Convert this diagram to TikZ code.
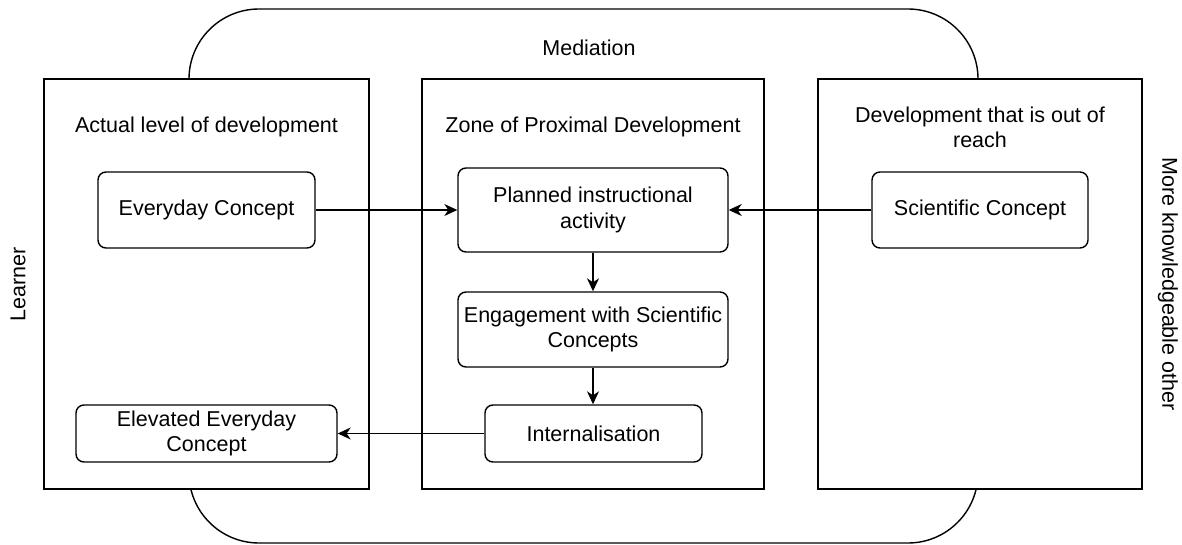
\documentclass[tikz,border=0pt]{standalone}
\usepackage{fontspec}
\setmainfont{Liberation Sans}
\usetikzlibrary{arrows.meta}
\begin{document}
\begin{tikzpicture}[x=0.5pt,y=-0.5pt,
  every node/.style={font=\fontsize{10.75}{12.75}\selectfont, align=center, inner sep=0pt},
  container/.style={draw, line width=0.7pt, fill=white},
  conceptbox/.style={draw, line width=0.7pt, fill=white, rounded corners=4pt},
  label/.style={},
  arr/.style={line width=0.7pt, -{Stealth[length=6.5pt,width=6pt,inset=2pt]}}]
\useasboundingbox (0,0) rectangle (1182,545);
% mediation rounded frame
\node[draw, line width=0.7pt, rounded corners=35pt, minimum width=394.5pt, minimum height=267pt] (frame) at (583.5,276) {};
\node[label] (medlabel) at (589,48) {Mediation};
% containers
\node[container, minimum width=162.5pt, minimum height=205pt] (left) at (206.5,284) {};
\node[container, minimum width=171pt, minimum height=205pt] (mid) at (593,284) {};
\node[container, minimum width=162pt, minimum height=205pt] (right) at (980,284) {};
\node[label] (lefttitle) at (206.5,127) {Actual level of development};
\node[label] (midtitle) at (593,127) {Zone of Proximal Development};
\node[label] (righttitle) at (980,127.5) {Development that is out of\\reach};
% side labels
\node[label, rotate=90] (learner) at (18,284) {Learner};
\node[label, rotate=-90] (mko) at (1168,284) {More knowledgeable other};
% concept boxes
\node[conceptbox, minimum width=108.5pt, minimum height=38pt] (everyday) at (206.5,210) {Everyday Concept};
\node[conceptbox, minimum width=135pt, minimum height=42pt] (planned) at (593,210) {Planned instructional\\activity};
\node[conceptbox, minimum width=108pt, minimum height=38pt] (scientific) at (980,210) {Scientific Concept};
\node[conceptbox, minimum width=135pt, minimum height=37.5pt] (engage) at (593,329.5) {Engagement with Scientific\\Concepts};
\node[conceptbox, minimum width=108.5pt, minimum height=28.5pt] (intern) at (593.5,433.5) {Internalisation};
\node[conceptbox, minimum width=130.5pt, minimum height=28.5pt] (elevated) at (206.5,433.5) {Elevated Everyday\\Concept};
% connectors
\draw[arr] (everyday.east) -- (planned.west);
\draw[arr] (scientific.west) -- (planned.east);
\draw[arr] (planned.south) -- (engage.north);
\draw[arr] (engage.south) -- (engage.south |- intern.north);
\draw[arr] (intern.west) -- (elevated.east);
\end{tikzpicture}
\end{document}
